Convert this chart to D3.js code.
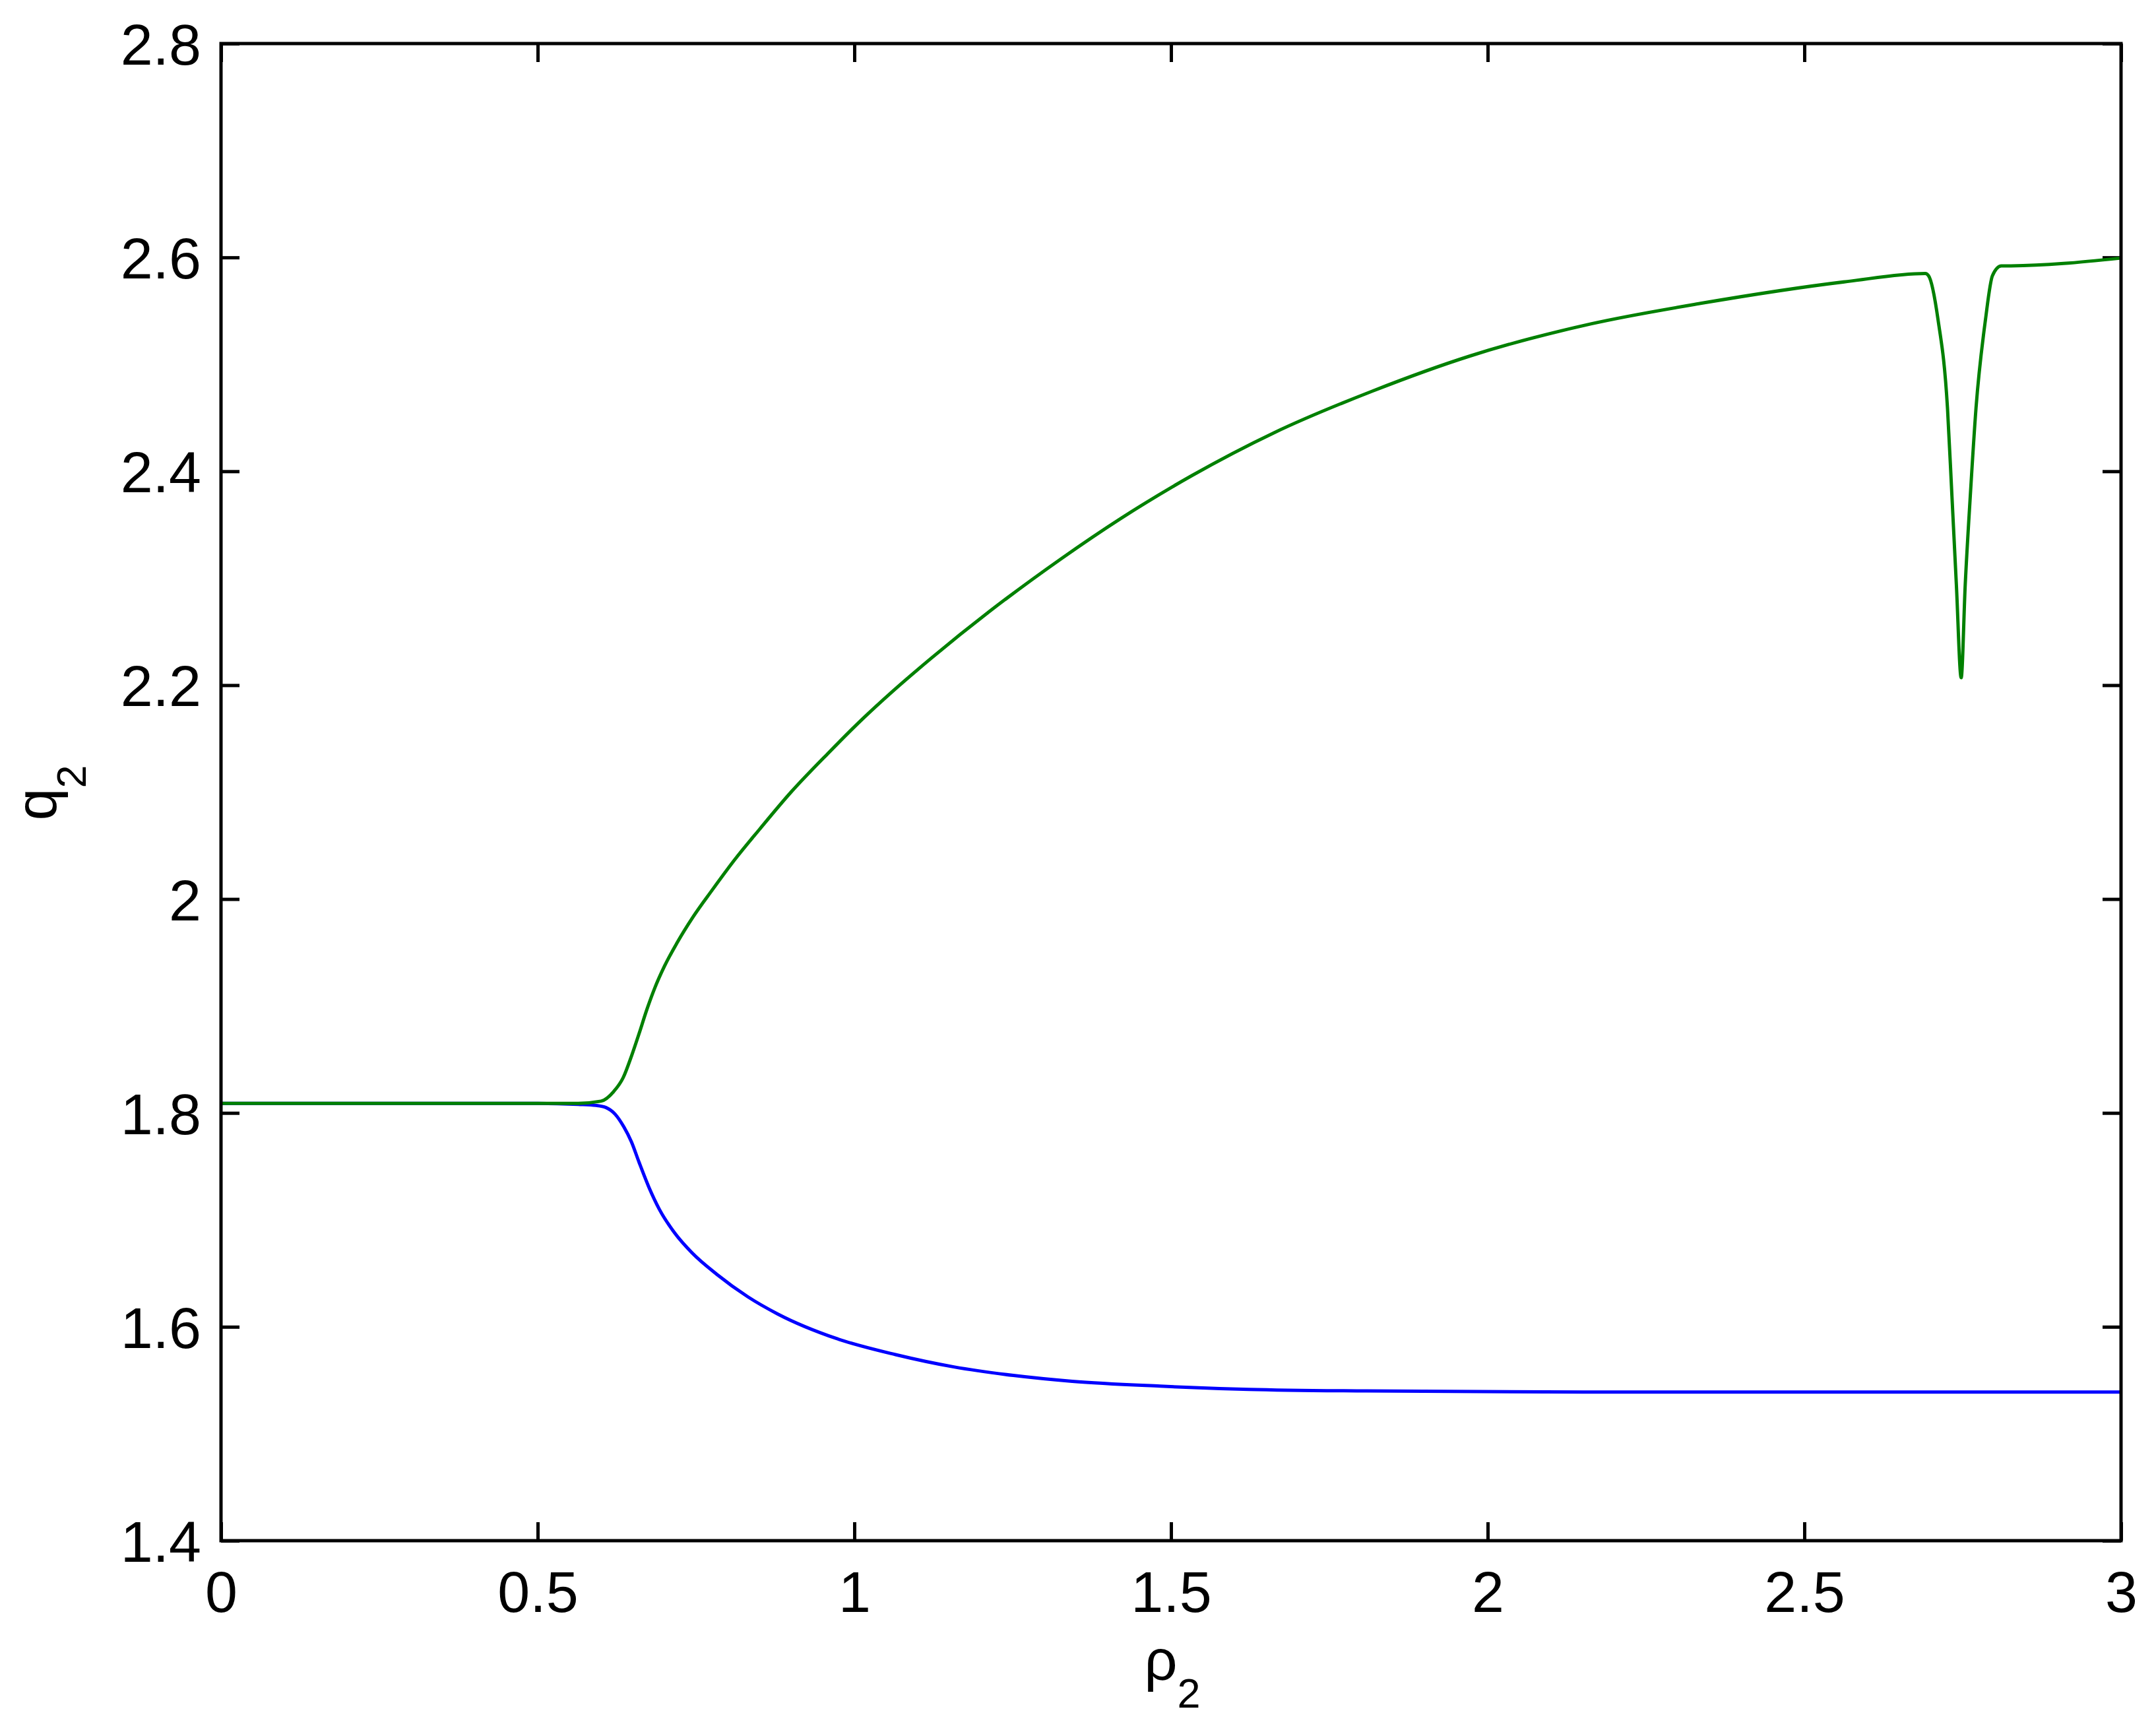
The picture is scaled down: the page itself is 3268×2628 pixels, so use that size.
<!DOCTYPE html>
<html>
<head>
<meta charset="utf-8">
<script src="https://cdn.jsdelivr.net/npm/d3@7"></script>
<style>
html, body { margin: 0; padding: 0; background: #fff; }
text { font-family: "Liberation Sans", Arial, Helvetica, sans-serif; fill: #000; }
</style>
</head>
<body>
<svg id="chart" width="3268" height="2628"></svg>
<script>
// ---- data ----
const xTicks = [0, 0.5, 1, 1.5, 2, 2.5, 3];
const xTickLabels = ["0", "0.5", "1", "1.5", "2", "2.5", "3"];
const yTicks = [1.4, 1.6, 1.8, 2.0, 2.2, 2.4, 2.6, 2.8];
const yTickLabels = ["1.4", "1.6", "1.8", "2", "2.2", "2.4", "2.6", "2.8"];

const greenRho = [0, 0.2, 0.4, 0.5, 0.564, 0.60, 0.62, 0.635, 0.648, 0.660, 0.672, 0.685, 0.700, 0.720, 0.745, 0.775, 0.810, 0.850, 0.900, 0.958, 1.014, 1.060, 1.121, 1.2135, 1.326, 1.421, 1.533, 1.6625, 1.818, 1.973, 2.164, 2.336, 2.568, 2.691, 2.696, 2.711, 2.726, 2.733, 2.740, 2.7476, 2.754, 2.762, 2.771, 2.786, 2.797, 2.811, 2.818, 3.0];
const greenQ   = [1.809, 1.809, 1.809, 1.809, 1.809, 1.811, 1.820, 1.833, 1.853, 1.874, 1.896, 1.917, 1.937, 1.959, 1.983, 2.008, 2.036, 2.065, 2.100, 2.136, 2.169, 2.194, 2.225, 2.269, 2.318, 2.356, 2.396, 2.436, 2.475, 2.508, 2.538, 2.557, 2.5775, 2.585, 2.583, 2.542, 2.459, 2.377, 2.294, 2.207, 2.294, 2.377, 2.459, 2.542, 2.583, 2.592, 2.592, 2.5994];

const blueRho = [0, 0.3, 0.5, 0.564, 0.592, 0.608, 0.622, 0.636, 0.648, 0.660, 0.676, 0.692, 0.716, 0.744, 0.783, 0.832, 0.879, 0.972, 1.065, 1.157, 1.251, 1.344, 1.483, 1.623, 1.808, 2.151, 2.5, 3.0];
const blueQ   = [1.809, 1.809, 1.809, 1.808, 1.807, 1.805, 1.799, 1.787, 1.773, 1.754, 1.730, 1.710, 1.688, 1.669, 1.649, 1.628, 1.612, 1.589, 1.574, 1.5625, 1.5545, 1.549, 1.5445, 1.5415, 1.540, 1.539, 1.539, 1.539];

// ---- layout ----
const W = 3268, H = 2628;
const margin = {left: 335, right: 53, top: 66, bottom: 293};
const iw = W - margin.left - margin.right;
const ih = H - margin.top - margin.bottom;
const FS = 88, SUB = 63;

const svg = d3.select("#chart");
svg.append("rect").attr("width", W).attr("height", H).attr("fill", "#fff");
const g = svg.append("g").attr("transform", `translate(${margin.left},${margin.top})`);

const x = d3.scaleLinear().domain([0, 3]).range([0, iw]);
const y = d3.scaleLinear().domain([1.4, 2.8]).range([ih, 0]);

const TICK = 28;

// axes
const axB = g.append("g").attr("transform", `translate(0,${ih})`)
  .call(d3.axisBottom(x).tickValues(xTicks).tickSizeInner(-TICK).tickSizeOuter(0).tickFormat((d, i) => xTickLabels[i]));
const axT = g.append("g")
  .call(d3.axisTop(x).tickValues(xTicks).tickSizeInner(-TICK).tickSizeOuter(0).tickFormat(""));
const axL = g.append("g")
  .call(d3.axisLeft(y).tickValues(yTicks).tickSizeInner(-TICK).tickSizeOuter(0).tickFormat((d, i) => yTickLabels[i]));
const axR = g.append("g").attr("transform", `translate(${iw},0)`)
  .call(d3.axisRight(y).tickValues(yTicks).tickSizeInner(-TICK).tickSizeOuter(0).tickFormat(""));

[axB, axT, axL, axR].forEach(a => {
  a.select(".domain").remove();
  a.selectAll(".tick line").attr("stroke", "#000").attr("stroke-width", 5);
  a.attr("font-family", null).attr("font-size", null);
});
axB.selectAll(".tick text").attr("y", 108).attr("dy", null)
  .attr("font-size", FS).attr("text-anchor", "middle");
axL.selectAll(".tick text").attr("x", -30).attr("dy", "0.358em")
  .attr("font-size", FS).attr("text-anchor", "end");

// lines
const line = d3.line().x(d => x(d[0])).y(d => y(d[1])).curve(d3.curveMonotoneX);
const blueData = blueRho.map((r, i) => [r, blueQ[i]]);
const greenData = greenRho.map((r, i) => [r, greenQ[i]]);

g.append("path").datum(blueData).attr("d", line)
  .attr("fill", "none").attr("stroke", "#0000ff").attr("stroke-width", 5).attr("stroke-linejoin", "round");
g.append("path").datum(greenData).attr("d", line)
  .attr("fill", "none").attr("stroke", "#008000").attr("stroke-width", 5).attr("stroke-linejoin", "round");

// frame
g.append("rect").attr("x", 0).attr("y", 0).attr("width", iw).attr("height", ih)
  .attr("fill", "none").attr("stroke", "#000").attr("stroke-width", 5);

// axis labels
const xl = svg.append("text").attr("transform", `translate(${margin.left + iw / 2 + 2},2546)`)
  .attr("text-anchor", "middle").attr("font-size", FS);
xl.append("tspan").text("ρ");
xl.append("tspan").attr("font-size", SUB).attr("dy", 42).text("2");

const yl = svg.append("text").attr("transform", `translate(85,${margin.top + ih / 2 + 1}) rotate(-90)`)
  .attr("text-anchor", "middle").attr("font-size", FS);
yl.append("tspan").text("q");
yl.append("tspan").attr("font-size", SUB).attr("dy", 45).text("2");
</script>
</body>
</html>
